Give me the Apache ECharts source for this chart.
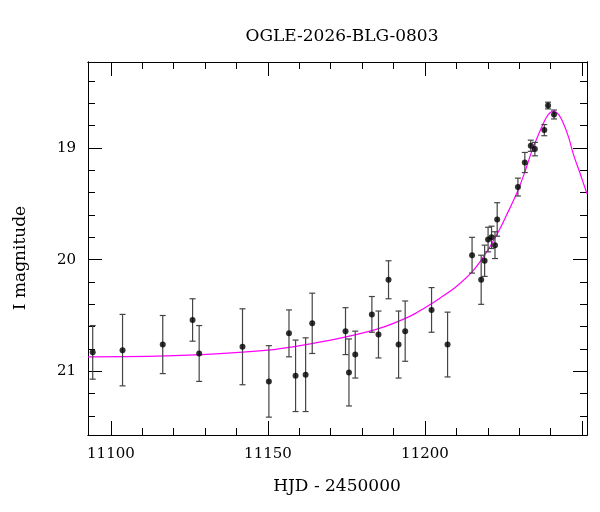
<!DOCTYPE html>
<html><head><meta charset="utf-8">
<script src="https://cdn.jsdelivr.net/npm/echarts@6/dist/echarts.min.js"></script>
<style>body{margin:0}#c{width:600px;height:512px}</style></head>
<body><div id="c"></div>
<script>
const hjd = [11094.2,11103.7,11116.5,11126.0,11128.1,11141.9,11150.3,11156.7,11158.8,11162.0,11164.1,11174.7,11175.8,11177.8,11183.1,11185.2,11188.4,11191.6,11193.7,11202.1,11207.2,
 11215.0,11217.9,11219.0,11220.1,11221.2,11222.3,11223.0,11229.6,11231.8,11233.7,11235.0,11238.0,11239.2,11241.1];
const mag = [20.83,20.81,20.76,20.54,20.84,20.78,21.09,20.66,21.04,21.03,20.57,20.64,21.01,20.85,20.49,20.67,20.18,20.76,20.64,20.45,20.76,
 19.96,20.18,20.01,19.82,19.80,19.87,19.64,19.35,19.13,18.98,19.01,18.84,18.62,18.70];
const err = [0.24,0.32,0.26,0.19,0.25,0.34,0.32,0.21,0.32,0.33,0.27,0.21,0.30,0.21,0.16,0.21,0.17,0.30,0.27,0.20,0.29,
 0.16,0.22,0.14,0.11,0.10,0.12,0.15,0.08,0.09,0.05,0.06,0.05,0.03,0.04];
const modelX = [11092.7,11120,11150,11170,11185,11195,11200,11205,11210,11215,11219,11223,11226,11229.6,11232,11234,11236,11237.7,11239.3,11240.9,11242.5,11244.1,11245.7,11247.2,11249.3,11251.6];
const modelY = [20.87,20.86,20.81,20.72,20.62,20.51,20.43,20.34,20.24,20.11,19.96,19.77,19.60,19.38,19.20,19.03,18.89,18.78,18.70,18.67,18.70,18.78,18.90,19.05,19.22,19.41];
const xLabels = [11100,11150,11200];
const xMajor = [11100,11150,11200,11250];
const xMinor = [11100,11110,11120,11130,11140,11150,11160,11170,11180,11190,11200,11210,11220,11230,11240,11250];
const yMajor = [19,20,21];
const yMinor = [18.4,18.6,18.8,19,19.2,19.4,19.6,19.8,20,20.2,20.4,20.6,20.8,21,21.2,21.4];

const F = 'DejaVu Serif';
const XMIN=11092.7, XMAX=11251.6, YMIN=18.23, YMAX=21.57;
function xa(pos, vals, len, labels){
  return {type:'value', position:pos, min:XMIN, max:XMAX,
    axisLine:{show:true,onZero:false,lineStyle:{color:'#000',width:1}},
    axisTick:{show:true,inside:true,length:len,customValues:vals,lineStyle:{color:'#000'}},
    axisLabel:{show:labels,customValues:xLabels,formatter:v=>String(v),color:'#000',fontFamily:F,fontSize:15,margin:12},
    splitLine:{show:false}};
}
function ya(pos, vals, len, labels){
  return {type:'value', position:pos, min:YMIN, max:YMAX, inverse:true,
    axisLine:{show:true,onZero:false,lineStyle:{color:'#000',width:1}},
    axisTick:{show:true,inside:true,length:len,customValues:vals,lineStyle:{color:'#000'}},
    axisLabel:{show:labels,customValues:yMajor,formatter:v=>String(v),color:'#000',fontFamily:F,fontSize:15,margin:12},
    splitLine:{show:false}};
}
const pts = hjd.map((x,i)=>[x,mag[i],err[i]]);
const chart = echarts.init(document.getElementById('c'));
chart.setOption({
  animation:false,
  title:{text:'OGLE-2026-BLG-0803',left:337,top:23,textAlign:'center',textStyle:{fontFamily:F,fontSize:17,fontWeight:'normal',color:'#000'}},
  grid:{left:88,right:13,top:62,bottom:77,outerBoundsMode:'none',containLabel:false},
  xAxis:[xa('bottom',xMajor,14,true),xa('bottom',xMinor,7,false),xa('top',xMajor,14,false),xa('top',xMinor,7,false)],
  yAxis:[ya('left',yMajor,14,true),ya('left',yMinor,7,false),ya('right',yMajor,14,false),ya('right',yMinor,7,false)],
  graphic:[
    {type:'text',x:337,y:478,style:{text:'HJD - 2450000',font:'17px "DejaVu Serif"',fill:'#000',textAlign:'center'}},
    {type:'text',rotation:Math.PI/2,x:12,y:258,style:{text:'I magnitude',font:'17px "DejaVu Serif"',fill:'#000',textAlign:'center'}}
  ],
  series:[
    {type:'line',data:modelX.map((x,i)=>[x,modelY[i]]),smooth:0.35,showSymbol:false,lineStyle:{color:'#ff00ff',width:1.2},z:1},
    {type:'custom',data:pts,z:2,renderItem:function(params,api){
      const x=api.value(0),y=api.value(1),e=api.value(2);
      const a=api.coord([x,y-e]),b=api.coord([x,y+e]);
      const st={stroke:'#444',lineWidth:1.2};
      return {type:'group',children:[
        {type:'line',shape:{x1:a[0],y1:a[1],x2:b[0],y2:b[1]},style:st},
        {type:'line',shape:{x1:a[0]-3,y1:a[1],x2:a[0]+3,y2:a[1]},style:st},
        {type:'line',shape:{x1:b[0]-3,y1:b[1],x2:b[0]+3,y2:b[1]},style:st}]};
    }},
    {type:'scatter',data:pts.map(p=>[p[0],p[1]]),symbolSize:6,itemStyle:{color:'#000'},z:3}
  ]
});
</script></body></html>
